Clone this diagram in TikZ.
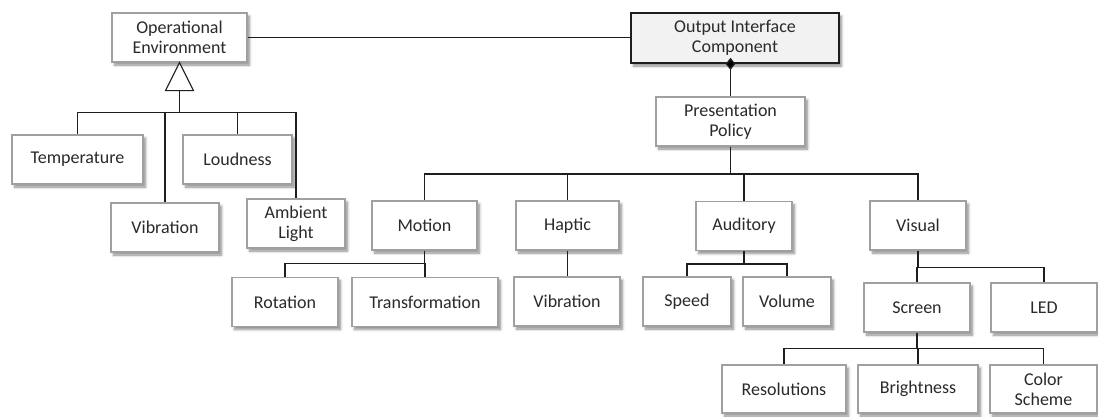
\documentclass[tikz,border=0pt]{standalone}
\usepackage{fontspec}
\setmainfont{Carlito}
\usetikzlibrary{shadows.blur,calc}
\definecolor{boxline}{HTML}{A0A0A0}
\definecolor{ink}{HTML}{2A2A2A}
\definecolor{wire}{HTML}{1E1E1E}
\definecolor{corefill}{HTML}{F2F2F2}
\tikzset{
  box/.style={draw=boxline, line width=1.1pt, fill=white, text=ink,
    align=center, inner sep=0pt, font=\fontsize{18}{20}\selectfont,
    blur shadow={shadow xshift=2.5pt, shadow yshift=-3pt, shadow blur steps=6,
      shadow blur radius=2.5pt, shadow opacity=45}},
  corebox/.style={box, draw=wire, line width=1.7pt, fill=corefill},
  wire/.style={draw=wire, line width=1.3pt},
}
\begin{document}
\begin{tikzpicture}[x=1pt, y=-1pt]
\useasboundingbox (0,0) rectangle (1098,416);

% --- boxes: centre x, centre y, width, height ---
\node[box, minimum width=135pt, minimum height=49pt] (oe)   at (179.5,37.5) {Operational\\Environment};
\node[corebox, minimum width=208pt, minimum height=50pt] (oic) at (735,38) {Output Interface\\Component};
\node[box, minimum width=149pt, minimum height=49pt] (pp)   at (730.5,121.5) {Presentation\\Policy};

\node[box, minimum width=131pt, minimum height=49pt] (temp) at (77.5,159.5) {Temperature};
\node[box, minimum width=109pt, minimum height=49pt] (loud) at (237.5,159.5) {Loudness};
\node[box, minimum width=108pt, minimum height=49pt] (vibe) at (165,227.5) {Vibration};
\node[box, minimum width=98pt,  minimum height=49pt] (amb)  at (296,223.5) {Ambient\\Light};

\node[box, minimum width=105pt, minimum height=49pt] (mot)  at (424.5,225.5) {Motion};
\node[box, minimum width=103pt, minimum height=49pt] (hap)  at (567.5,225.5) {Haptic};
\node[box, minimum width=96pt,  minimum height=49pt] (aud)  at (744,226) {Auditory};
\node[box, minimum width=96pt,  minimum height=49pt] (vis)  at (918,225.5) {Visual};

\node[box, minimum width=106pt, minimum height=49pt] (rot)  at (285,302) {Rotation};
\node[box, minimum width=146pt, minimum height=49pt] (trf)  at (425,302) {Transformation};
\node[box, minimum width=106pt, minimum height=49pt] (hvib) at (567,301.5) {Vibration};
\node[box, minimum width=88pt,  minimum height=49pt] (spd)  at (687,301.5) {Speed};
\node[box, minimum width=88pt,  minimum height=49pt] (vol)  at (787,301.5) {Volume};

\node[box, minimum width=106pt, minimum height=49pt] (scr)  at (917,307.5) {Screen};
\node[box, minimum width=106pt, minimum height=49pt] (led)  at (1044,307.5) {LED};

\node[box, minimum width=124pt, minimum height=48pt] (res)  at (784,389) {Resolutions};
\node[box, minimum width=120pt, minimum height=48pt] (bri)  at (918,389) {Brightness};
\node[box, minimum width=107pt, minimum height=48pt] (col)  at (1043.5,389) {Color\\Scheme};

% --- association between environment and component ---
\draw[wire] (oe.east) -- (oe.east -| oic.west);

% --- generalisation: hollow triangle and its tree ---
\coordinate (gbase) at ($(oe.south)+(0,28)$);
\coordinate (gbus) at ($(oe.south)+(0,50)$);
\draw[wire] (gbase) -- (gbus);
\draw[wire] (gbus) -| (temp.north);
\draw[wire] (gbus) -| (vibe.north);
\draw[wire] (gbus) -| (loud.north);
\draw[wire] (gbus) -| (amb.north);
\draw[wire, fill=white, line width=1.1pt, line join=miter]
  (oe.south) -- ($(gbase)+(14,0)$) -- ($(gbase)+(-14,0)$) -- cycle;

% --- composition: component to presentation policy ---
\coordinate (comp) at (pp.north |- oic.south);
\draw[wire] (pp.north) -- (comp);
\fill[wire] ($(comp)+(0,-5)$) -- ($(comp)+(4,0)$) -- ($(comp)+(0,5)$) -- ($(comp)+(-4,0)$) -- cycle;

% --- presentation policy tree ---
\coordinate (pbus) at ($(pp.south)+(0,27.5)$);
\draw[wire] (pp.south) -- (pbus);
\draw[wire] (pbus) -| (mot.north);
\draw[wire] (pbus) -| (hap.north);
\draw[wire] (pbus) -| (aud.north);
\draw[wire] (pbus) -| (vis.north);

% --- motion ---
\coordinate (mbus) at ($(mot.south)+(0,13)$);
\draw[wire] (mot.south) -- (mbus);
\draw[wire] (mbus) -| (rot.north);
\draw[wire] (mbus) -| (trf.north);

% --- haptic ---
\draw[wire] (hap.south) -- (hap.south |- hvib.north);

% --- auditory ---
\coordinate (abus) at ($(aud.south)+(0,13)$);
\draw[wire] (aud.south) -- (abus);
\draw[wire] (abus) -| (spd.north);
\draw[wire] (abus) -| (vol.north);

% --- visual ---
\coordinate (vbus) at ($(vis.south)+(0,17)$);
\draw[wire] (vis.south) -- (vbus);
\draw[wire] (vbus) -| (scr.north);
\draw[wire] (vbus) -| (led.north);

% --- screen ---
\coordinate (sbus) at ($(scr.south)+(0,16)$);
\draw[wire] (scr.south) -- (sbus);
\draw[wire] (sbus) -| (res.north);
\draw[wire] (sbus) -| (bri.north);
\draw[wire] (sbus) -| (col.north);
\end{tikzpicture}
\end{document}
